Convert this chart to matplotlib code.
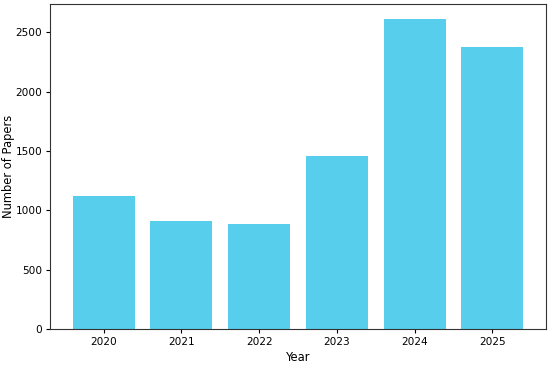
import matplotlib
matplotlib.use("Agg")
import matplotlib.pyplot as plt

# Papers per year
years = ["2020", "2021", "2022", "2023", "2024", "2025"]
papers = [1117, 906, 884, 1456, 2607, 2374]

fig, ax = plt.subplots(figsize=(5.5, 3.66), dpi=100)
fig.subplots_adjust(left=50 / 550, right=546 / 550, bottom=1 - 329 / 366, top=1 - 4 / 366)

ax.bar(years, papers, width=0.8, color="#57CFEC")
ax.set_xlabel("Year", fontsize=8.3, labelpad=3)
ax.set_ylabel("Number of Papers", fontsize=8.3)
ax.yaxis.set_label_coords(-0.071, 0.5)
ax.tick_params(labelsize=7.6, length=3, pad=2.5)
for s in ax.spines.values():
    s.set_color("#333333")

fig.savefig("out.png", dpi=100)
